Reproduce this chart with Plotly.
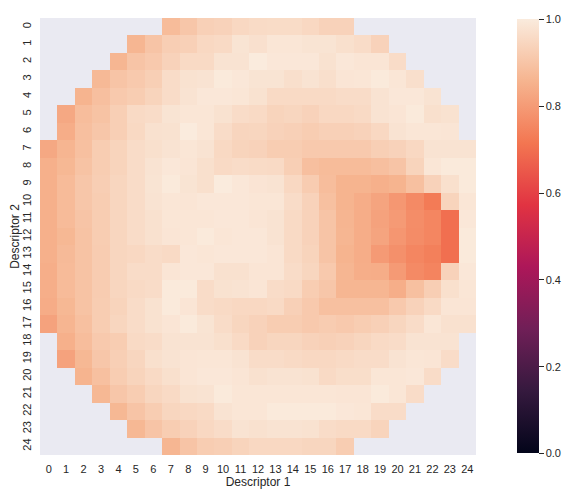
import plotly.graph_objects as go

N = None
x_labels = [str(i) for i in range(25)]
y_labels = [str(i) for i in range(25)]

row_00 = [N]*7 + [.878,.904,.93,.935,.95,.958,.96,.96,.95,.935,.935] + [N]*7
row_01 = [N]*5 + [.862,.899,.925,.93,.95,.956,.982,.972,.987,.987,.982,.982,.971,.961,.935] + [N]*5
row_02 = [N]*4 + [.862,.899,.912,.935,.956,.956,.98,.98,1.0,.99,.99,.99,.977,.99,.985,.985,.961] + [N]*4
row_03 = [N]*3 + [.87,.899,.912,.927,.961,.977,.98,.997,.99,.982,.982,.969,.98,.969,.985,.987,.997,.987,.969] + [N]*3
row_04 = [N]*2 + [.857,.886,.912,.922,.94,.961,.98,.99,.99,.987,.977,.956,.956,.956,.956,.961,.961,.98,.99,.99,.98] + [N]*2
row_05 = [N] + [.829,.88,.896,.927,.956,.961,.982,.987,.987,.977,.961,.956,.94,.945,.935,.95,.95,.956,.98,.985,.997,.971,.977] + [N]
row_06 = [N] + [.84,.886,.904,.927,.953,.974,.977,1.0,.987,.961,.943,.945,.935,.93,.922,.93,.93,.935,.95,.98,.987,.987,.985] + [N]
row_07 = [.829,.86,.888,.922,.94,.961,.971,.98,.987,.98,.953,.94,.935,.922,.922,.912,.912,.912,.912,.927,.935,.95,.98,.98,.98]
row_08 = [.847,.867,.896,.922,.94,.961,.98,.99,.985,.971,.956,.961,.958,.956,.927,.886,.878,.878,.878,.886,.899,.94,.987,.997,.997]
row_09 = [.847,.875,.904,.925,.945,.961,.982,.997,.982,.971,1.0,.99,.983,.98,.95,.92,.88,.857,.857,.847,.857,.888,.935,.971,.997]
row_10 = [.847,.875,.904,.922,.945,.961,.98,.987,.985,.99,.99,.99,.987,.987,.961,.935,.888,.857,.84,.82,.79,.76,.725,.94,.987]
row_11 = [.847,.875,.899,.922,.945,.961,.974,.987,.987,.987,.99,.99,.985,.98,.956,.935,.899,.86,.84,.815,.797,.767,.751,.70,.99]
row_12 = [.847,.867,.896,.922,.945,.961,.974,.985,.987,.997,.987,.99,.99,.98,.956,.935,.899,.862,.84,.82,.788,.765,.75,.70,.997]
row_13 = [.847,.873,.896,.92,.945,.95,.961,.956,.99,.987,.99,.99,.99,.985,.956,.94,.899,.857,.84,.797,.774,.751,.737,.70,.997]
row_14 = [.843,.875,.896,.92,.945,.961,.961,.985,.99,.99,.974,.974,.985,.985,.961,.945,.912,.862,.843,.84,.797,.76,.746,.935,.99]
row_15 = [.843,.875,.896,.92,.945,.956,.961,.997,.997,.961,.977,.98,.985,.961,.956,.922,.904,.862,.862,.862,.843,.888,.925,.971,.987]
row_16 = [.838,.867,.896,.922,.94,.961,.977,.997,.985,.961,.956,.95,.95,.956,.93,.912,.888,.888,.888,.888,.912,.935,.956,.985,.985]
row_17 = [.815,.86,.888,.922,.945,.961,.977,.985,.997,.982,.961,.945,.935,.922,.922,.912,.92,.912,.922,.93,.945,.961,.987,.974,.974]
row_18 = [N] + [.847,.88,.912,.922,.956,.961,.98,.98,.98,.971,.956,.935,.945,.945,.935,.93,.935,.945,.956,.961,.98,.98,.98] + [N]
row_19 = [N] + [.815,.867,.904,.927,.945,.971,.98,.985,.987,.987,.98,.961,.961,.956,.95,.95,.956,.961,.961,.98,.987,.985,.961] + [N]
row_20 = [N]*2 + [.857,.888,.922,.94,.956,.971,.985,.99,.99,.985,.975,.98,.98,.977,.956,.965,.965,.987,.987,.99,.961] + [N]*2
row_21 = [N]*3 + [.867,.904,.922,.945,.956,.977,.98,.997,.987,.987,.987,.987,.987,.987,.985,.985,.997,.987,.961] + [N]*3
row_22 = [N]*4 + [.867,.899,.922,.945,.95,.956,.98,.987,.987,.997,.997,.997,.997,.99,.987,.961,.961] + [N]*4
row_23 = [N]*5 + [.867,.899,.922,.935,.95,.961,.98,.975,.98,.98,.977,.961,.956,.956,.94] + [N]*5
row_24 = [N]*7 + [.862,.899,.922,.927,.94,.95,.95,.95,.945,.945,.922] + [N]*7

z = [row_00, row_01, row_02, row_03, row_04, row_05, row_06, row_07, row_08, row_09,
     row_10, row_11, row_12, row_13, row_14, row_15, row_16, row_17, row_18, row_19,
     row_20, row_21, row_22, row_23, row_24]

cbar_ticks = [0.0, 0.2, 0.4, 0.6, 0.8, 1.0]

rocket = [
    [0.0, "#03051a"], [0.143, "#35193e"], [0.286, "#701f57"], [0.429, "#ad1759"],
    [0.571, "#e13342"], [0.714, "#f37651"], [0.857, "#f6b48f"], [1.0, "#faebdd"],
]

font_family = "Liberation Sans, Arial, sans-serif"

fig = go.Figure(go.Heatmap(
    z=z, x=x_labels, y=y_labels,
    colorscale=rocket, zmin=0, zmax=1,
    colorbar=dict(
        x=1.094, xanchor="left", xref="paper",
        y=0.5, yanchor="middle", len=0.993, lenmode="fraction",
        thickness=22, outlinewidth=0, xpad=0, ypad=0,
        tickvals=cbar_ticks, ticktext=[f"{t:.1f}" for t in cbar_ticks],
        ticks="outside", ticklen=5, tickwidth=1, tickcolor="#262626",
        tickfont=dict(family=font_family, size=11, color="#262626"),
    ),
    hoverongaps=False,
))

# The page body has an 8px default margin, so the figure is sized 8px smaller.
fig.update_layout(
    width=563, height=488,
    margin=dict(l=32, r=95, t=10, b=41, autoexpand=False),
    paper_bgcolor="white", plot_bgcolor="#eaeaf2",
    font=dict(family=font_family, size=11, color="#262626"),
    xaxis=dict(
        title=dict(text="Descriptor 1", font=dict(size=12, color="#262626"), standoff=2),
        type="category", showgrid=False, zeroline=False, ticks="",
        tickfont=dict(size=11, color="#262626"), tickangle=0, ticklabelstandoff=6,
    ),
    yaxis=dict(
        title=dict(text="Descriptor 2", font=dict(size=12, color="#262626"), standoff=2),
        type="category", autorange="reversed", showgrid=False, zeroline=False, ticks="",
        tickfont=dict(size=11, color="#262626"), tickangle=-90, ticklabelstandoff=6,
    ),
)

fig.write_html("out.html")
